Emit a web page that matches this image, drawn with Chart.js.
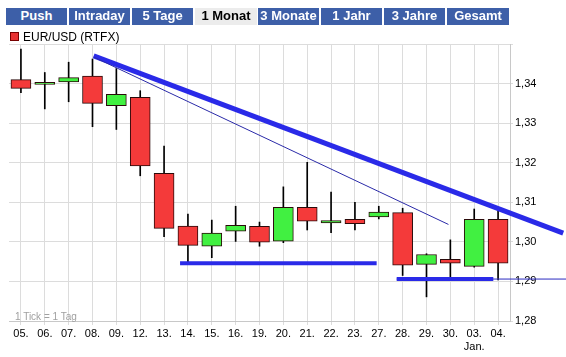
<!DOCTYPE html>
<html>
<head>
<meta charset="utf-8">
<script src="https://cdn.jsdelivr.net/npm/chart.js@4"></script>
<style>
html,body{margin:0;padding:0;background:#fff;}
#wrap{position:relative;width:566px;height:357px;overflow:hidden;}
#c{position:absolute;left:0;top:0;}
.tab{position:absolute;top:8px;height:17px;line-height:17px;text-align:center;font:bold 13px "Liberation Sans",Arial,sans-serif;color:#fff;background:#3d5fa8;white-space:nowrap;}
.tab.on{background:#ececec;color:#000;}
#leg{position:absolute;left:10px;top:30px;font:12px "Liberation Sans",Arial,sans-serif;color:#000;line-height:14px;}
#leg span.box{display:inline-block;width:7px;height:7px;background:#e83232;border:1px solid #700;margin-right:4px;vertical-align:0px;}
#note{position:absolute;left:15px;top:311px;font:10px "Liberation Sans",Arial,sans-serif;color:#a0a0a0;}
</style>
</head>
<body>
<div id="wrap">
<canvas id="c" width="566" height="357"></canvas>
<div class="tab" style="left:6px;width:61px">Push</div>
<div class="tab" style="left:69px;width:61px">Intraday</div>
<div class="tab" style="left:132px;width:61px">5 Tage</div>
<div class="tab on" style="left:195px;width:62px">1 Monat</div>
<div class="tab" style="left:258px;width:61px">3 Monate</div>
<div class="tab" style="left:321px;width:61px">1 Jahr</div>
<div class="tab" style="left:384px;width:61px">3 Jahre</div>
<div class="tab" style="left:447px;width:62px">Gesamt</div>
<div id="leg"><span class="box"></span>EUR/USD (RTFX)</div>
<div id="note">1 Tick = 1 Tag</div>
</div>
<script>
// ---- data ----
const categories = ['05.','06.','07.','08.','09.','12.','13.','14.','15.','16.','19.','20.','21.','22.','23.','27.','28.','29.','30.',['03.','Jan.'],'04.'];
const openVals  = [1.3410,1.3398,1.3404,1.3419,1.3344,1.3365,1.3173,1.3040,1.2989,1.3027,1.3039,1.3002,1.3087,1.3048,1.3057,1.3063,1.3074,1.2943,1.2956,1.2938,1.3057];
const highVals  = [1.3487,1.3428,1.3454,1.3462,1.3438,1.3382,1.3242,1.3070,1.3055,1.3090,1.3050,1.3139,1.3201,1.3126,1.3100,1.3090,1.3085,1.2970,1.3005,1.3083,1.3080];
const lowVals   = [1.3377,1.3336,1.3354,1.3291,1.3284,1.3167,1.3013,1.2950,1.2960,1.3001,1.2989,1.2998,1.3030,1.3023,1.3030,1.3058,1.2915,1.2861,1.2910,1.2936,1.2904];
const closeVals = [1.3388,1.3403,1.3415,1.3350,1.3373,1.3192,1.3034,1.2991,1.3022,1.3042,1.2999,1.3087,1.3052,1.3054,1.3046,1.3075,1.2941,1.2968,1.2946,1.3057,1.2946];
const yTicks = [1.28,1.29,1.30,1.31,1.32,1.33,1.34];
// trend lines: [startIndex, startValue, endIndex, endValue]
const trendThick = [3.05, 1.3470, 22.73, 1.3022];
const trendThin  = [3.05, 1.3467, 17.92, 1.3044];
const support1   = [6.67, 1.2946, 14.91, 1.2946];
const support2   = [15.75, 1.2906, 19.80, 1.2906];
const support2Thin = [15.75, 1.2906, 22.85, 1.2906];

const RED = '#f43a3a', GREEN = '#41f041';
const wickData = categories.map((_, i) => [lowVals[i], highVals[i]]);
const bodyData = categories.map((_, i) => [openVals[i], closeVals[i]]);
const bodyColors = categories.map((_, i) => closeVals[i] >= openVals[i] ? GREEN : RED);

const lines = [
  {d: trendThick, w: 5, c: '#2a2ae8'},
  {d: trendThin, w: 1, c: '#2a2aa8'},
  {d: support1, w: 4, c: '#2a2ae8'},
  {d: support2Thin, w: 1, c: '#2a2ac0'},
  {d: support2, w: 4, c: '#2a2ae8'}
];

const trendPlugin = {
  id: 'trend',
  afterDatasetsDraw(chart) {
    const ctx = chart.ctx, xs = chart.scales.x, ys = chart.scales.y;
    ctx.save();
    lines.forEach(l => {
      ctx.beginPath();
      ctx.lineWidth = l.w;
      ctx.strokeStyle = l.c;
      ctx.lineCap = 'butt';
      ctx.moveTo(xs.getPixelForValue(l.d[0]), ys.getPixelForValue(l.d[1]));
      ctx.lineTo(xs.getPixelForValue(l.d[2]), ys.getPixelForValue(l.d[3]));
      ctx.stroke();
    });
    ctx.restore();
  }
};

const FONT = {family: '"Liberation Sans", Arial, sans-serif', size: 11};

new Chart(document.getElementById('c'), {
  type: 'bar',
  data: {
    labels: categories,
    datasets: [
      {label: 'body', data: bodyData, backgroundColor: bodyColors, borderColor: '#2a0a0a', borderWidth: 1, borderSkipped: false, barThickness: 20, grouped: false, order: 1},
      {label: 'wick', data: wickData, backgroundColor: '#000', borderWidth: 0, barThickness: 1, grouped: false, order: 2}
    ]
  },
  options: {
    responsive: false,
    animation: false,
    devicePixelRatio: 1,
    layout: {padding: {top: 44, left: 9, right: 0, bottom: 0}},
    plugins: {legend: {display: false}, tooltip: {enabled: false}},
    scales: {
      x: {
        offset: true,
        grid: {offset: false, color: '#dcdcdc', tickLength: 4},
        border: {color: '#c8c8c8'},
        ticks: {autoSkip: false, maxRotation: 0, minRotation: 0, font: FONT, color: '#000', padding: 2},
        afterFit(s) { s.height = 36; }
      },
      y: {
        position: 'right',
        min: 1.28, max: 1.35,
        grid: {color: '#dcdcdc', tickLength: 3},
        border: {color: '#c8c8c8'},
        afterBuildTicks(s) { s.ticks = yTicks.concat([1.35]).map(v => ({value: v})); },
        ticks: {font: FONT, color: '#000', padding: 2,
          callback: v => yTicks.some(t => Math.abs(t - v) < 1e-6) ? v.toFixed(2).replace('.', ',') : ''},
        afterFit(s) { s.width = 56; }
      }
    }
  },
  plugins: [trendPlugin]
});
</script>
</body>
</html>
